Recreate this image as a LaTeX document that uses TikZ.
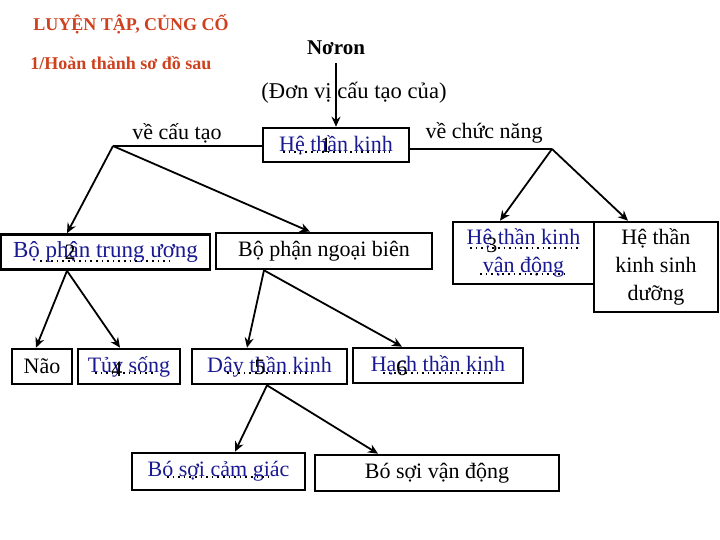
\documentclass[tikz,border=0pt]{standalone}
\usepackage{fontspec}
\setmainfont{Liberation Serif}
\usetikzlibrary{arrows.meta}
\definecolor{navy}{RGB}{25,25,145}
\definecolor{titlered}{RGB}{205,65,30}
\tikzset{
  box/.style={draw, line width=1.3pt, inner sep=0pt, align=center, font=\fontsize{11}{14}\selectfont},
  ans/.style={box, text=navy},
  lbl/.style={inner sep=0pt, font=\fontsize{11}{14}\selectfont},
  arr/.style={line width=0.9pt, -{Stealth[length=5pt,width=4.5pt]}},
  dotline/.style={dotted, line width=0.8pt},
}

\begin{document}
\begin{tikzpicture}[x=0.5pt,y=-0.5pt]
\useasboundingbox (0,0) rectangle (720,540);

\node[anchor=west,titlered,font=\fontsize{9}{11}\selectfont\bfseries,inner sep=0pt] (title) at (33,24) {LUYỆN TẬP, CỦNG CỐ};
\node[anchor=west,titlered,font=\fontsize{9}{11}\selectfont\bfseries,inner sep=0pt] (task) at (30,63) {1/Hoàn thành sơ đồ sau};
\node[font=\fontsize{10.5}{12}\selectfont\bfseries,inner sep=0pt] (noron) at (336,48) {Nơron};
\node[lbl,font=\fontsize{11.3}{14}\selectfont] (donvi) at (354,93) {(Đơn vị cấu tạo của)};
\node[lbl] (cautao) at (177,133) {về cấu tạo};
\node[lbl] (chucnang) at (484,133) {về chức năng};

% sizes in pt = half the pixel sizes
\node[ans,minimum width=73pt,minimum height=17pt] (htk) at (336,145) {Hệ thần kinh};
\node[ans,minimum width=104.5pt,minimum height=17.5pt,font=\fontsize{11.5}{14}\selectfont] (bptw) at (105.5,252) {Bộ phận trung ương};
\node[box,minimum width=108pt,minimum height=18pt] (bpnb) at (324,251) {Bộ phận ngoại biên};
\node[ans,minimum width=70.5pt,minimum height=31pt] (htkvd) at (523.5,253) {Hệ thần kinh\\vận động};
\node[box,minimum width=62pt,minimum height=45pt] (htksd) at (656,267) {Hệ thần\\kinh sinh\\dưỡng};
\node[box,minimum width=30pt,minimum height=17.5pt] (nao) at (42,366.5) {Não};
\node[ans,minimum width=51pt,minimum height=17.5pt] (tuy) at (129,366.5) {Tủy sống};
\node[ans,minimum width=77.5pt,minimum height=17.5pt] (day) at (269.5,366.5) {Dây thần kinh};
\node[ans,minimum width=85pt,minimum height=17.5pt] (hach) at (438,365.5) {Hạch thần kinh};
\node[ans,minimum width=86.5pt,minimum height=18.5pt] (bscg) at (218.5,471.5) {Bó sợi cảm giác};
\node[box,minimum width=122pt,minimum height=18pt] (bsvd) at (437,473) {Bó sợi vận động};

% blanks to fill in
\foreach \xa/\xb/\yy in {283/390/152, 40/170/261, 470/580/248, 480/565/274, 95/153/373, 227/312/373, 383/493/373, 167/272/477}
  \draw[dotline] (\xa,\yy) -- (\xb,\yy);
\foreach \n/\xx/\yy in {1/326/145, 2/70/252, 3/492/245, 4/117/369, 5/260/367, 6/402/368}
  \node[lbl] (num\n) at (\xx,\yy) {\n};

\coordinate (jL) at (113,146);
\coordinate (jR) at (552,149);

\draw[arr] (noron.south) ++(0,8) -- (htk.north);
\draw[line width=0.9pt] (jL -| htk.west) -- (jL);
\draw[line width=0.9pt] (jR -| htk.east) -- (jR);
\draw[arr] (jL) -- (bptw.north -| 67,0);
\draw[arr] (jL) -- (bpnb.north -| 310,0);
\draw[arr] (jR) -- (htkvd.north -| 500,0);
\draw[arr] (jR) -- (htksd.north -| 628,0);
\draw[arr] (bptw.south -| 67,0) -- (nao.north -| 36,0);
\draw[arr] (bptw.south -| 67,0) -- (tuy.north -| 120,0);
\draw[arr] (bpnb.south -| 264,0) -- (day.north -| 247,0);
\draw[arr] (bpnb.south -| 264,0) -- (hach.north -| 402,0);
\draw[arr] (day.south -| 267,0) -- (bscg.north -| 235,0);
\draw[arr] (day.south -| 267,0) -- (bsvd.north -| 378,0);
\end{tikzpicture}
\end{document}
